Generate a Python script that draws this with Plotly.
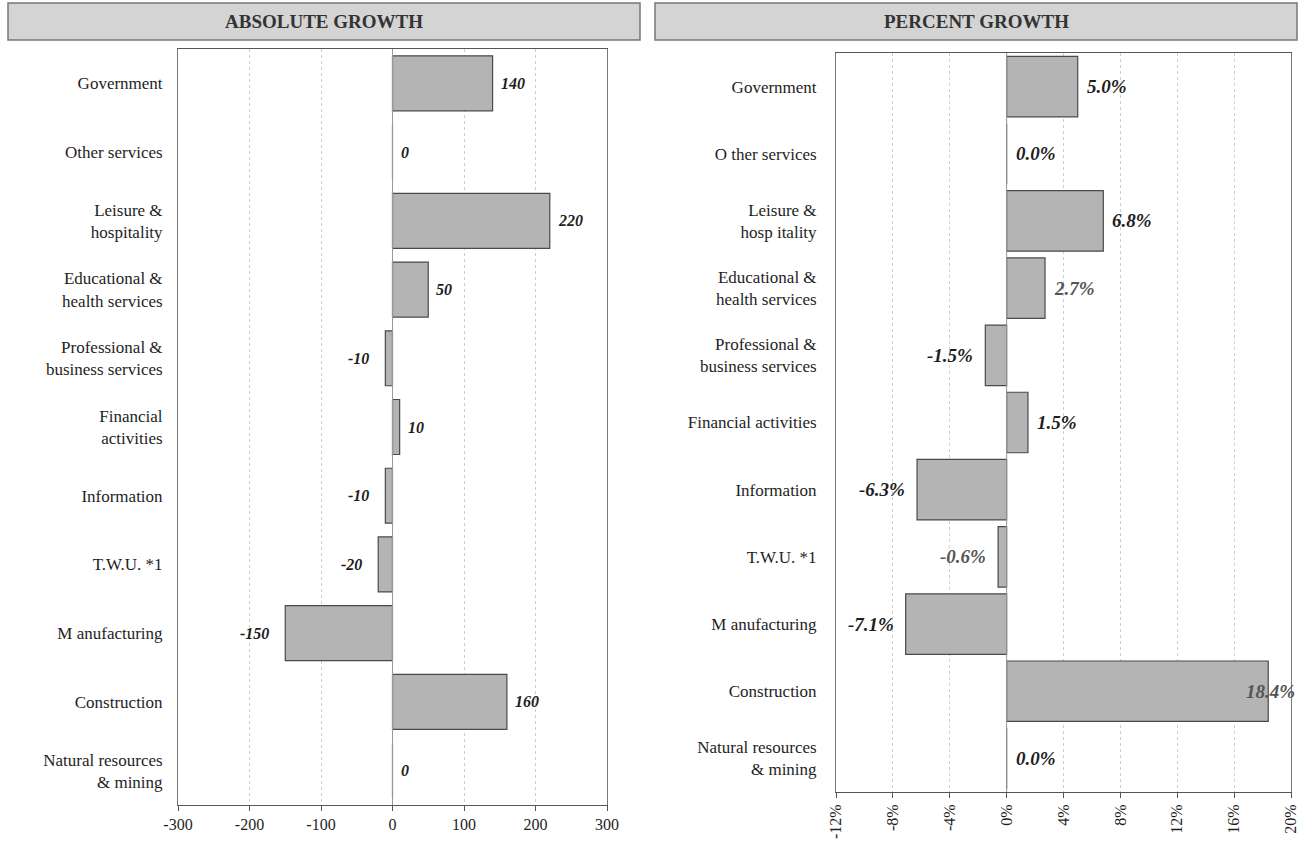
import plotly.graph_objects as go

# Industry sectors, top to bottom
categories = [
    "Government", "Other services", "Leisure &<br>hospitality",
    "Educational &<br>health services", "Professional &<br>business services",
    "Financial<br>activities", "Information", "T.W.U. *1", "M anufacturing",
    "Construction", "Natural resources<br>& mining",
]
categories_right = [
    "Government", "O ther services", "Leisure &<br>hosp itality",
    "Educational &<br>health services", "Professional &<br>business services",
    "Financial activities", "Information", "T.W.U. *1", "M anufacturing",
    "Construction", "Natural resources<br>& mining",
]
abs_growth = [140, 0, 220, 50, -10, 10, -10, -20, -150, 160, 0]
pct_growth = [5.0, 0.0, 6.8, 2.7, -1.5, 1.5, -6.3, -0.6, -7.1, 18.4, 0.0]

abs_ticks = [-300, -200, -100, 0, 100, 200, 300]
pct_ticks = [-12, -8, -4, 0, 4, 8, 12, 16, 20]

SERIF = "Liberation Serif, Times New Roman, serif"
BAR_FILL = "#b4b4b4"
BAR_LINE = "#4a4a4a"
TXT = "#1e1e1e"
W, H = 1303, 850

ids = list(range(len(categories)))

fig = go.Figure()
fig.add_trace(go.Bar(
    y=ids, x=abs_growth, orientation="h", width=0.8,
    marker=dict(color=BAR_FILL, line=dict(color=BAR_LINE, width=1.2)),
    xaxis="x", yaxis="y", showlegend=False, hoverinfo="x+y",
))
fig.add_trace(go.Bar(
    y=ids, x=pct_growth, orientation="h", width=0.9,
    marker=dict(color=BAR_FILL, line=dict(color=BAR_LINE, width=1.2)),
    xaxis="x2", yaxis="y2", showlegend=False, hoverinfo="x+y",
))

annotations = []
for i, v in enumerate(abs_growth):
    annotations.append(dict(
        x=v, y=i, xref="x", yref="y", text=f"<b><i>{v}</i></b>",
        showarrow=False, xanchor="right" if v < 0 else "left",
        xshift=-14 if v < 0 else 6,
        font=dict(family=SERIF, size=16, color=TXT),
    ))
for i, v in enumerate(pct_growth):
    # the widest bar carries its label over its own end
    shift = -10 if v < 0 else (-24 if v > 15 else 7)
    annotations.append(dict(
        x=v, y=i, xref="x2", yref="y2", text=f"<b><i>{v:.1f}%</i></b>",
        showarrow=False, xanchor="right" if v < 0 else "left", xshift=shift,
        font=dict(family=SERIF, size=19,
                  color="#555" if v in (2.7, 18.4, -0.6) else TXT),
    ))

# Panel headers
for x0, x1, title in [(8, 640, "ABSOLUTE GROWTH"), (655, 1297, "PERCENT GROWTH")]:
    annotations.append(dict(
        x=(x0 + x1) / 2 / W, y=1 - 22 / H, xref="paper", yref="paper",
        xanchor="center", yanchor="middle",
        text=f"<b>{title}</b>", showarrow=False,
        font=dict(family=SERIF, size=19, color="#333"),
    ))

shapes = [
    dict(type="rect", xref="paper", yref="paper",
         x0=8 / W, x1=640 / W, y0=1 - 40 / H, y1=1 - 3 / H,
         fillcolor="#d4d4d4", line=dict(color="#777", width=1.5), layer="below"),
    dict(type="rect", xref="paper", yref="paper",
         x0=655 / W, x1=1297 / W, y0=1 - 40 / H, y1=1 - 3 / H,
         fillcolor="#d4d4d4", line=dict(color="#777", width=1.5), layer="below"),
    dict(type="line", xref="x", yref="paper", x0=0, x1=0,
         y0=1 - 805 / H, y1=1 - 49 / H, line=dict(color="#999", width=1)),
    dict(type="line", xref="x2", yref="paper", x0=0, x1=0,
         y0=1 - 792 / H, y1=1 - 53 / H, line=dict(color="#999", width=1)),
]

axis_common = dict(
    showline=True, linecolor="#555", linewidth=1, mirror=True,
    showgrid=True, gridcolor="#d0d0d0", griddash="dot", gridwidth=1,
    zeroline=False, ticks="outside", ticklen=5, tickcolor="#555",
    tickfont=dict(family=SERIF, size=16, color=TXT), automargin=False,
)
yaxis_common = dict(
    showline=True, linecolor="#777", linewidth=1, mirror=True,
    showgrid=False, zeroline=False, ticks="",
    tickfont=dict(family=SERIF, size=17, color=TXT), automargin=False,
    range=[len(categories) - 0.5, -0.5], tickmode="array", tickvals=ids,
)

fig.update_layout(
    width=W, height=H,
    margin=dict(l=0, r=0, t=0, b=0, autoexpand=False),
    paper_bgcolor="white", plot_bgcolor="white",
    xaxis=dict(domain=[178 / W, 607 / W], range=[-300, 300],
               tickvals=abs_ticks, ticktext=[str(t) for t in abs_ticks],
               anchor="y", **axis_common),
    yaxis=dict(domain=[1 - 805 / H, 1 - 49 / H], anchor="x",
               ticktext=categories, ticklabelstandoff=11, **yaxis_common),
    xaxis2=dict(domain=[836 / W, 1291 / W], range=[-12, 20],
                tickvals=pct_ticks, ticktext=[f"{t}%" for t in pct_ticks],
                tickangle=-90, anchor="y2", **axis_common),
    yaxis2=dict(domain=[1 - 792 / H, 1 - 53 / H], anchor="x2",
                ticktext=categories_right, ticklabelstandoff=15, **yaxis_common),
    annotations=annotations,
    shapes=shapes,
)

fig.write_html("out.html")
